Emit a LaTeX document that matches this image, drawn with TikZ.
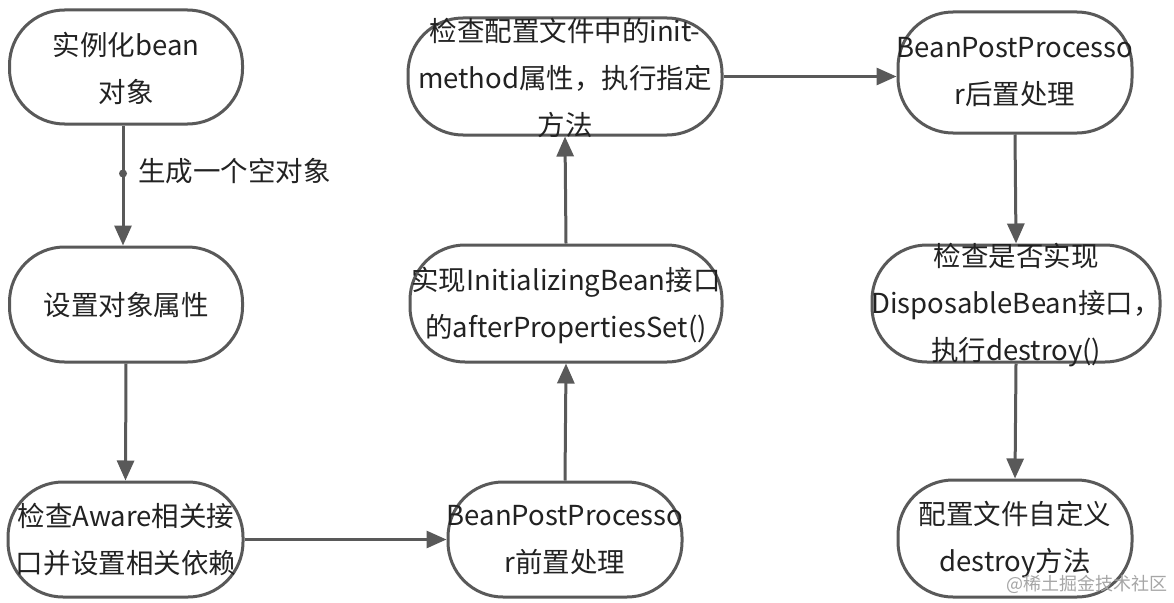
\documentclass[tikz,border=0pt]{standalone}
\usepackage{fontspec}
\setmainfont{Noto Sans CJK SC}
\usetikzlibrary{arrows.meta}
\definecolor{ln}{HTML}{595959}
\definecolor{tx}{HTML}{222222}
\begin{document}
\begin{tikzpicture}[x=1pt,y=-1pt,
  box/.style={draw=ln, line width=3pt, fill=white, rectangle, rounded corners=55pt, inner sep=0pt},
  txt/.style={text=tx, align=center, inner sep=0pt, font=\fontsize{27.5}{47}\selectfont},
  arr/.style={draw=ln, line width=3pt, -{Triangle[length=20pt,width=17pt]}}]
\useasboundingbox[fill=white] (0,0) rectangle (1174,602);
% boxes
\node[box, minimum width=233pt, minimum height=114pt] (a) at (126,67) {};
\node[box, minimum width=233pt, minimum height=115pt] (b) at (126,304.5) {};
\node[box, minimum width=235pt, minimum height=115pt] (c) at (125.5,539.5) {};
\node[box, minimum width=234pt, minimum height=115pt] (d) at (565,539.5) {};
\node[box, minimum width=312pt, minimum height=117pt] (e) at (566,303.5) {};
\node[box, minimum width=314pt, minimum height=117pt] (f) at (565,76.5) {};
\node[box, minimum width=234pt, minimum height=121pt] (g) at (1015,72.5) {};
\node[box, minimum width=288pt, minimum height=117pt] (h) at (1016,303.5) {};
\node[box, minimum width=234pt, minimum height=117pt] (i) at (1015,538.5) {};
% texts
\node[txt] (ta) at (126,68) {实例化bean\\对象};
\node[txt] (tb) at (126,305) {设置对象属性};
\node[txt] (tc) at (126,540) {检查Aware相关接\\口并设置相关依赖};
\node[txt] (td) at (565,540) {BeanPostProcesso\\r前置处理};
\node[txt] (te) at (566,305) {实现InitializingBean接口\\的afterPropertiesSet()};
\node[txt] (tf) at (565,78) {检查配置文件中的init-\\method属性，执行指定\\方法};
\node[txt] (tg) at (1015,72) {BeanPostProcesso\\r后置处理};
\node[txt] (th) at (1016,305) {检查是否实现\\DisposableBean接口，\\执行destroy()};
\node[txt] (ti) at (1015,540) {配置文件自定义\\destroy方法};
% connectors
\draw[arr] ([xshift=-3pt]a.south) -- coordinate[pos=0.4] (m) ([xshift=-3pt]b.north);
\fill[ln] (m) circle (4pt);
\node[txt, anchor=west] (lab) at ([xshift=15pt,yshift=2pt]m) {生成一个空对象};
\draw[arr] (b.south) -- (c.north);
\draw[arr] (c.east) -- (d.west);
\draw[arr] (d.north) -- (e.south);
\draw[arr] (e.north) -- (f.south);
\draw[arr] (f.east) -- (f.east -| g.west);
\draw[arr] (g.south) -- (h.north);
\draw[arr] (h.south) -- (i.north);
\node[text=gray!70, font=\fontsize{18}{20}\selectfont, anchor=east, inner sep=0pt] (wm) at (1168,584) {@稀土掘金技术社区};
\end{tikzpicture}
\end{document}
